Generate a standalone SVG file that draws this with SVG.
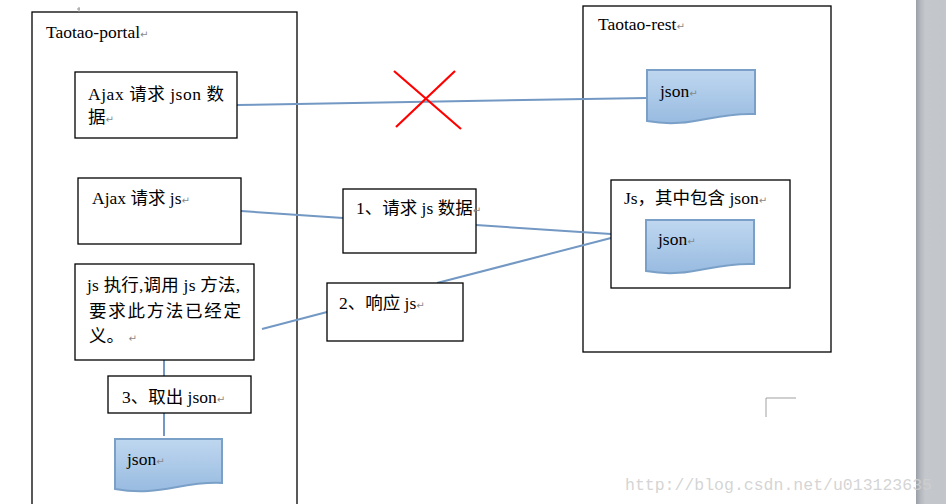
<svg xmlns="http://www.w3.org/2000/svg" width="946" height="504" viewBox="0 0 946 504">
<defs>
<linearGradient id="docg" x1="0" y1="0" x2="0" y2="1">
<stop offset="0" stop-color="#bfd7f0"/>
<stop offset="1" stop-color="#98bbe0"/>
</linearGradient>
<linearGradient id="sbg" x1="0" y1="0" x2="1" y2="0">
<stop offset="0" stop-color="#9aa0a7"/>
<stop offset="0.15" stop-color="#b4b8be"/>
<stop offset="0.3" stop-color="#c4c7cc"/>
<stop offset="1" stop-color="#c2c5ca"/>
</linearGradient>
</defs>
<style>
.box{fill:#fff;stroke:#000;stroke-width:1.3}
.frame{fill:none;stroke:#000;stroke-width:1.3}
.doc{fill:url(#docg);stroke:#7aa0c8;stroke-width:2}
.t{font-family:"Liberation Serif","Noto Sans CJK SC",serif;font-size:17.5px;fill:#000}
.pm{font-family:"DejaVu Sans",sans-serif;font-size:10px;fill:#888}
.conn{fill:none;stroke:#7298c3;stroke-width:2}
.x{stroke:#f00;stroke-width:2.2}
</style>
<rect width="946" height="504" fill="#fff"/>

<g id="portal">
<rect class="frame" x="32" y="12" width="265" height="500"/>
<text class="t" x="46" y="38">Taotao-portal<tspan class="pm">↵</tspan></text>
</g>
<path d="M79 7 V12 M77 9 H80" stroke="#999" stroke-width="1" fill="none"/>

<g id="rest">
<rect class="frame" x="583" y="6" width="248" height="346"/>
<text class="t" x="598" y="30">Taotao-rest<tspan class="pm">↵</tspan></text>
</g>

<g id="connectors">
<line class="conn" x1="237" y1="105" x2="647" y2="98"/>
<line class="conn" x1="241" y1="211" x2="343" y2="218"/>
<line class="conn" x1="476" y1="225" x2="611" y2="234"/>
<line class="conn" x1="262" y1="329" x2="327" y2="312"/>
<line class="conn" x1="437" y1="283" x2="611" y2="238"/>
<line class="conn" x1="164" y1="360" x2="164" y2="376"/>
<line class="conn" x1="164" y1="413" x2="164" y2="436"/>
</g>

<g id="cross">
<line class="x" x1="394" y1="71" x2="461" y2="129"/>
<line class="x" x1="455" y1="71" x2="396" y2="127"/>
</g>

<g id="ajax-json">
<rect class="box" x="75" y="72" width="162" height="66"/>
<text class="t" x="88" y="100" textLength="136" lengthAdjust="spacing">Ajax 请求 json 数</text>
<text class="t" x="88" y="123">据<tspan class="pm">↵</tspan></text>
</g>

<g id="ajax-js">
<rect class="box" x="78" y="178" width="163" height="66"/>
<text class="t" x="92" y="204">Ajax 请求 js<tspan class="pm">↵</tspan></text>
</g>

<g id="js-exec">
<rect class="box" x="75" y="264" width="179" height="96"/>
<text class="t" x="87" y="291" textLength="153" lengthAdjust="spacing">js 执行,调用 js 方法,</text>
<text class="t" x="89" y="317" textLength="152" lengthAdjust="spacing">要求此方法已经定</text>
<text class="t" x="89" y="342">义。 <tspan class="pm">↵</tspan></text>
</g>

<g id="step3">
<rect class="box" x="108" y="376" width="143" height="37"/>
<text class="t" x="122" y="403">3、取出 json<tspan class="pm">↵</tspan></text>
</g>

<g id="json-portal">
<path class="doc" d="M115 439 H222 V483 C180 481 160 497 115 489 Z"/>
<text class="t" x="127" y="465">json<tspan class="pm">↵</tspan></text>
</g>

<g id="step1">
<rect class="box" x="343" y="189" width="133" height="64"/>
<text class="t" x="356" y="214">1、请求 js 数据<tspan class="pm">↵</tspan></text>
</g>

<g id="step2">
<rect class="box" x="327" y="283" width="136" height="58"/>
<text class="t" x="339" y="309">2、响应 js<tspan class="pm">↵</tspan></text>
</g>

<g id="json-rest">
<path class="doc" d="M647 70 H755 V114 C712 112 692 129 647 121 Z"/>
<text class="t" x="660" y="97">json<tspan class="pm">↵</tspan></text>
</g>

<g id="js-contains">
<rect class="box" x="611" y="180" width="179" height="108"/>
<text class="t" x="624" y="204">Js，其中包含 json<tspan class="pm">↵</tspan></text>
<path class="doc" d="M646 220 H754 V264 C711 262 691 279 646 271 Z"/>
<text class="t" x="658" y="245">json<tspan class="pm">↵</tspan></text>
</g>

<path d="M766 417 V398 H796" stroke="#a0a0a0" stroke-width="1" fill="none"/>

<rect x="916" y="0" width="30" height="504" fill="url(#sbg)"/>

<text x="625" y="490" font-family="Liberation Mono, monospace" font-size="16.5" fill="#cfcfcf" fill-opacity="0.9">http://blog.csdn.net/u013123635</text>
</svg>
